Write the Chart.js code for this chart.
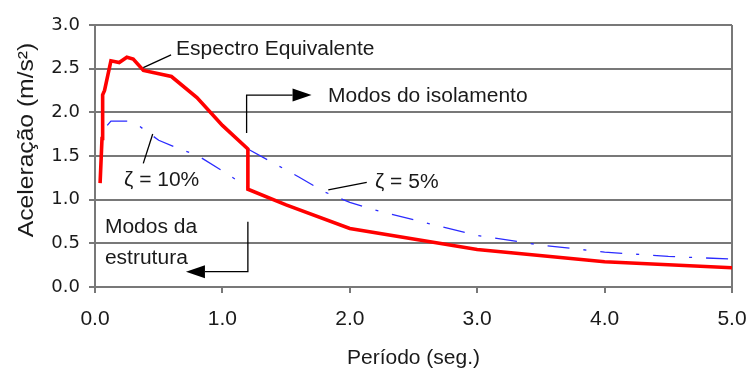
<!DOCTYPE html>
<html>
<head>
<meta charset="utf-8">
<script src="https://cdn.jsdelivr.net/npm/chart.js@4.4.1/dist/chart.umd.min.js"></script>
<style>
  html, body { margin: 0; padding: 0; background: #ffffff; }
  #wrap { width: 750px; height: 369px; }
</style>
</head>
<body>
<div id="wrap"><canvas id="chart" width="750" height="369"></canvas></div>
<script>
// Espectro equivalente (combined spectrum)
const periodEq = [0.04, 0.055, 0.06, 0.075, 0.125, 0.19, 0.25, 0.30, 0.38, 0.60, 0.80, 1.00, 1.20, 1.20, 1.50, 2.00, 3.00, 4.00, 5.00];
const accelEq  = [1.19, 1.70, 2.20, 2.25, 2.59, 2.57, 2.63, 2.61, 2.48, 2.41, 2.17, 1.85, 1.58, 1.12, 0.94, 0.67, 0.43, 0.29, 0.22];

// Spectrum for damping 10 % (structure modes)
const period10 = [0.096, 0.125, 0.26, 0.35, 0.50, 0.70, 0.80, 1.00, 1.20];
const accel10  = [1.85, 1.90, 1.90, 1.84, 1.68, 1.56, 1.51, 1.33, 1.14];

// Spectrum for damping 5 % (isolation modes)
const period5 = [1.20, 1.40, 1.60, 1.80, 2.00, 2.20, 2.50, 3.00, 3.50, 4.00, 4.50, 5.00];
const accel5  = [1.58, 1.42, 1.26, 1.09, 0.97, 0.88, 0.77, 0.59, 0.48, 0.40, 0.35, 0.32];

const xTicks = [0, 1, 2, 3, 4, 5];
const yTicks = [0, 0.5, 1, 1.5, 2, 2.5, 3];

const toPoints = (xs, ys) => xs.map((x, i) => ({ x: x, y: ys[i] }));

const GRID = '#787878';
const TEXT = '#1a1a1a';
const SANS = '"Liberation Sans", Arial, sans-serif';
const WIDE = '"DejaVu Sans", "Liberation Sans", sans-serif';

// Callouts, leader lines and arrows placed in data units
const notes = [
  { text: 'Espectro Equivalente', x: 0.636, y: 2.714 },
  { text: 'Modos do isolamento',  x: 1.829, y: 2.187 },
  { text: '\u03b6 = 10%',         x: 0.228, y: 1.214 },
  { text: '\u03b6 = 5%',          x: 2.198, y: 1.202 },
  { text: 'Modos da',             x: 0.078, y: 0.687 },
  { text: 'estrutura',            x: 0.078, y: 0.332 }
];
const leaders = [
  [[0.379, 2.511], [0.597, 2.657]],
  [[0.379, 1.416], [0.453, 1.752]],
  [[1.831, 1.111], [2.133, 1.199]]
];
const arrows = [
  [[1.19, 1.763], [1.19, 2.198], [1.70, 2.198]],
  [[1.20, 0.748], [1.20, 0.175], [0.714, 0.175]]
];
const yTitle = 'Aceleração (m/s²)';

const calloutPlugin = {
  id: 'callouts',
  afterDatasetsDraw(chart) {
    const ctx = chart.ctx;
    const xs = chart.scales.x, ys = chart.scales.y;
    const px = v => xs.getPixelForValue(v);
    const py = v => ys.getPixelForValue(v);
    ctx.save();
    ctx.strokeStyle = '#000000';
    ctx.fillStyle = '#000000';
    ctx.lineWidth = 1.3;
    leaders.forEach(seg => {
      ctx.beginPath();
      ctx.moveTo(px(seg[0][0]), py(seg[0][1]));
      ctx.lineTo(px(seg[1][0]), py(seg[1][1]));
      ctx.stroke();
    });
    arrows.forEach(path => {
      const pts = path.map(p => [px(p[0]), py(p[1])]);
      const tip = pts[pts.length - 1];
      const prev = pts[pts.length - 2];
      const dir = Math.sign(tip[0] - prev[0]);
      const headLen = 19, headHalf = 6.5;
      ctx.beginPath();
      ctx.moveTo(pts[0][0], pts[0][1]);
      for (let i = 1; i < pts.length - 1; i++) ctx.lineTo(pts[i][0], pts[i][1]);
      ctx.lineTo(tip[0] - dir * headLen, tip[1]);
      ctx.stroke();
      ctx.beginPath();
      ctx.moveTo(tip[0], tip[1]);
      ctx.lineTo(tip[0] - dir * headLen, tip[1] - headHalf);
      ctx.lineTo(tip[0] - dir * headLen, tip[1] + headHalf);
      ctx.closePath();
      ctx.fill();
    });
    ctx.fillStyle = TEXT;
    ctx.font = '20px ' + SANS;
    ctx.textAlign = 'left';
    ctx.textBaseline = 'middle';
    notes.forEach(n => {
      ctx.save();
      ctx.translate(px(n.x), py(n.y));
      ctx.scale(1.05, 1);
      ctx.fillText(n.text, 0, 0);
      ctx.restore();
    });
    ctx.restore();
  },
  afterDraw(chart) {
    // vertical axis title, centred a little above the plot middle
    const ctx = chart.ctx;
    ctx.save();
    ctx.fillStyle = TEXT;
    ctx.font = '22px ' + SANS;
    ctx.textAlign = 'center';
    ctx.textBaseline = 'middle';
    ctx.translate(27, 140);
    ctx.rotate(-Math.PI / 2);
    ctx.scale(1.12, 1);
    ctx.fillText(yTitle, 0, 0);
    ctx.restore();
  }
};

new Chart(document.getElementById('chart'), {
  type: 'line',
  data: {
    datasets: [
      {
        label: 'Espectro Equivalente',
        data: toPoints(periodEq, accelEq),
        borderColor: '#ff0000',
        borderWidth: 3.6,
        pointRadius: 0,
        tension: 0,
        fill: false
      },
      {
        label: '\u03b6 = 10%',
        data: toPoints(period10, accel10),
        borderColor: '#2b2bff',
        borderWidth: 1.3,
        borderDash: [22, 14, 3, 14],
        pointRadius: 0,
        tension: 0,
        fill: false
      },
      {
        label: '\u03b6 = 5%',
        data: toPoints(period5, accel5),
        borderColor: '#2b2bff',
        borderWidth: 1.3,
        borderDash: [22, 14, 3, 14],
        pointRadius: 0,
        tension: 0,
        fill: false
      }
    ]
  },
  options: {
    responsive: false,
    animation: false,
    layout: { padding: { top: 25, right: 18, left: 0, bottom: 0 } },
    plugins: { legend: { display: false }, tooltip: { enabled: false } },
    scales: {
      x: {
        type: 'linear',
        min: 0,
        max: 5,
        afterFit(s) { s.height = 82; s.paddingLeft = 0; s.paddingRight = 0; },
        afterBuildTicks(s) { s.ticks = xTicks.map(v => ({ value: v })); },
        ticks: {
          padding: 14,
          color: TEXT,
          font: { family: SANS, size: 21 },
          callback: v => v.toFixed(1)
        },
        grid: {
          color: c => (c.tick && c.tick.value === 5 ? GRID : 'rgba(0,0,0,0)'),
          tickColor: GRID,
          lineWidth: 2,
          tickLength: 6
        },
        border: { display: true, color: GRID, width: 2 },
        title: {
          display: true,
          text: 'Período (seg.)',
          color: TEXT,
          font: { family: SANS, size: 21 },
          padding: { top: 0, bottom: -2 }
        }
      },
      y: {
        type: 'linear',
        min: 0,
        max: 3,
        afterFit(s) { s.width = 95; s.paddingTop = 0; s.paddingBottom = 0; },
        afterBuildTicks(s) { s.ticks = yTicks.map(v => ({ value: v })); },
        ticks: {
          padding: 9,
          color: TEXT,
          font: { family: WIDE, size: 18 },
          callback: v => v.toFixed(1)
        },
        grid: {
          color: GRID,
          tickColor: GRID,
          lineWidth: 2,
          tickLength: 6
        },
        border: { display: true, color: GRID, width: 2 }
      }
    }
  },
  plugins: [calloutPlugin]
});
</script>
</body>
</html>
